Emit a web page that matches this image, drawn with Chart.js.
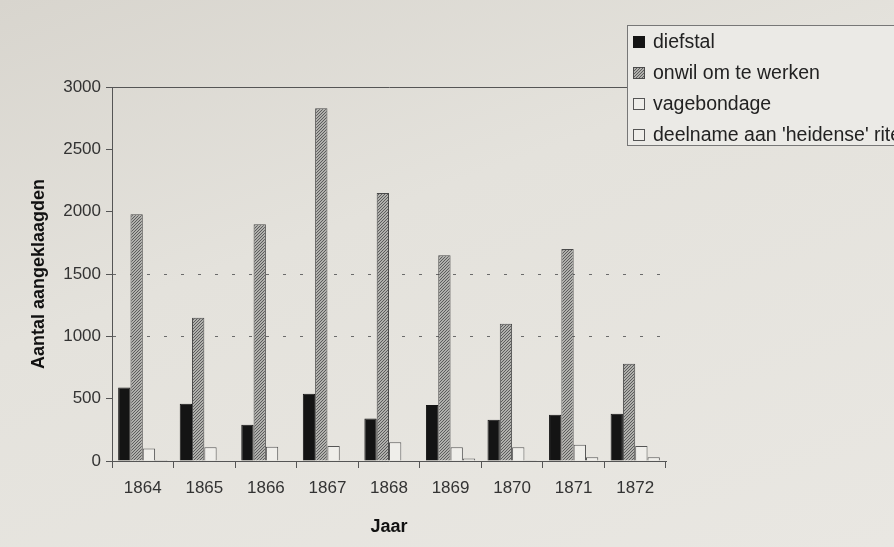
<!DOCTYPE html>
<html>
<head>
<meta charset="utf-8">
<script src="https://cdn.jsdelivr.net/npm/chart.js@4.4.0/dist/chart.umd.min.js"></script>
<style>
    html, body { margin: 0; padding: 0; }
    body { background: linear-gradient(160deg, #d8d5ce 0%, #e4e2dc 40%, #e9e7e2 100%); }
    canvas { display: block; }
</style>
</head>
<body>
<canvas id="grafiek" width="894" height="547"></canvas>
<script>
// Data
const jaren = ["1864", "1865", "1866", "1867", "1868", "1869", "1870", "1871", "1872"];
const diefstal = [590, 460, 290, 540, 340, 450, 330, 370, 380];
const onwil = [1980, 1150, 1900, 2830, 2150, 1650, 1100, 1700, 780];
const vagebondage = [100, 110, 115, 120, 150, 110, 110, 130, 120];
const heidenseRiten = [8, 0, 5, 5, 0, 20, 3, 30, 30];
const yTicks = [0, 500, 1000, 1500, 2000, 2500, 3000];
const stippelLijnen = [1000, 1500];

const lettertype = "'Liberation Sans', Arial, sans-serif";
Chart.defaults.font.family = lettertype;
Chart.defaults.color = "#333";

// fijn gearceerd patroon voor "onwil om te werken"
function maakArcering() {
    const p = document.createElement("canvas");
    p.width = 3;
    p.height = 3;
    const c = p.getContext("2d");
    c.fillStyle = "#b0b0ac";
    c.fillRect(0, 0, 3, 3);
    c.fillStyle = "#5c5c5c";
    c.fillRect(2, 0, 1, 1);
    c.fillRect(1, 1, 1, 1);
    c.fillRect(0, 2, 1, 1);
    return document.getElementById("grafiek").getContext("2d").createPattern(p, "repeat");
}
const arcering = maakArcering();

const legendaPlugin = {
    id: "legenda",
    afterDraw(chart) {
        const c = chart.ctx;
        const x = 627, y = 25;
        c.save();
        c.fillStyle = "#ebeae6";
        c.fillRect(x, y, 300, 120);
        c.strokeStyle = "#777";
        c.lineWidth = 1;
        c.strokeRect(x + 0.5, y + 0.5, 300, 120);
        c.font = "19.5px " + lettertype;
        c.textBaseline = "middle";
        chart.data.datasets.forEach((ds, i) => {
            const ry = y + 17 + i * 31;
            c.fillStyle = ds.backgroundColor;
            c.fillRect(x + 6, ry - 6, 12, 12);
            c.strokeStyle = ds.borderColor;
            c.strokeRect(x + 6.5, ry - 5.5, 11, 11);
            c.fillStyle = "#222";
            c.fillText(ds.label, x + 26, ry + 1);
        });
        c.restore();
    },
};

new Chart(document.getElementById("grafiek"), {
    type: "bar",
    data: {
        labels: jaren,
        datasets: [
            { label: "diefstal", data: diefstal, backgroundColor: "#141414", borderColor: "#141414", borderWidth: 1 },
            { label: "onwil om te werken", data: onwil, backgroundColor: arcering, borderColor: "#4a4a4a", borderWidth: 1 },
            { label: "vagebondage", data: vagebondage, backgroundColor: "#efeeea", borderColor: "#555", borderWidth: 1 },
            { label: "deelname aan 'heidense' riten", data: heidenseRiten, backgroundColor: "#efeeea", borderColor: "#555", borderWidth: 1 },
        ],
    },
    options: {
        responsive: false,
        animation: false,
        devicePixelRatio: 1,
        layout: { padding: { left: 20, right: 228, top: 0, bottom: 0 } },
        datasets: { bar: { categoryPercentage: 0.8, barPercentage: 1.0 } },
        plugins: {
            legend: { display: false },
            tooltip: { enabled: false },
        },
        scales: {
            x: {
                position: "bottom",
                grid: { offset: true, drawOnChartArea: false, tickLength: 7, tickColor: "#555" },
                border: { color: "#555", width: 1 },
                ticks: { font: { size: 17 }, color: "#333", padding: 10, maxRotation: 0 },
                title: { display: true, text: "Jaar", font: { size: 18, weight: "bold" }, color: "#111", padding: { bottom: 9, top: 0 } },
                afterFit: (s) => { s.height = 86; },
            },
            x2: {
                type: "category",
                labels: jaren,
                position: "top",
                grid: { display: false },
                ticks: { display: false },
                border: { display: true, color: "#555", width: 1 },
                afterFit: (s) => { s.height = 87; },
            },
            y: {
                min: 0,
                max: 3000,
                afterBuildTicks: (s) => { s.ticks = yTicks.map((v) => ({ value: v })); },
                grid: {
                    color: (ctx) => (stippelLijnen.includes(ctx.tick && ctx.tick.value) ? "#6a6a6a" : "rgba(0,0,0,0)"),
                    tickColor: "#555",
                    tickLength: 6,
                },
                border: { color: "#555", width: 1, dash: [3, 14] },
                ticks: { font: { size: 17 }, color: "#333", padding: 5, callback: (v) => String(v) },
                title: { display: true, text: "Aantal aangeklaagden", font: { size: 18, weight: "bold" }, color: "#111", padding: { top: 8, bottom: 0 } },
                afterFit: (s) => { s.width = 92; },
            },
        },
    },
    plugins: [legendaPlugin],
});
</script>
</body>
</html>
